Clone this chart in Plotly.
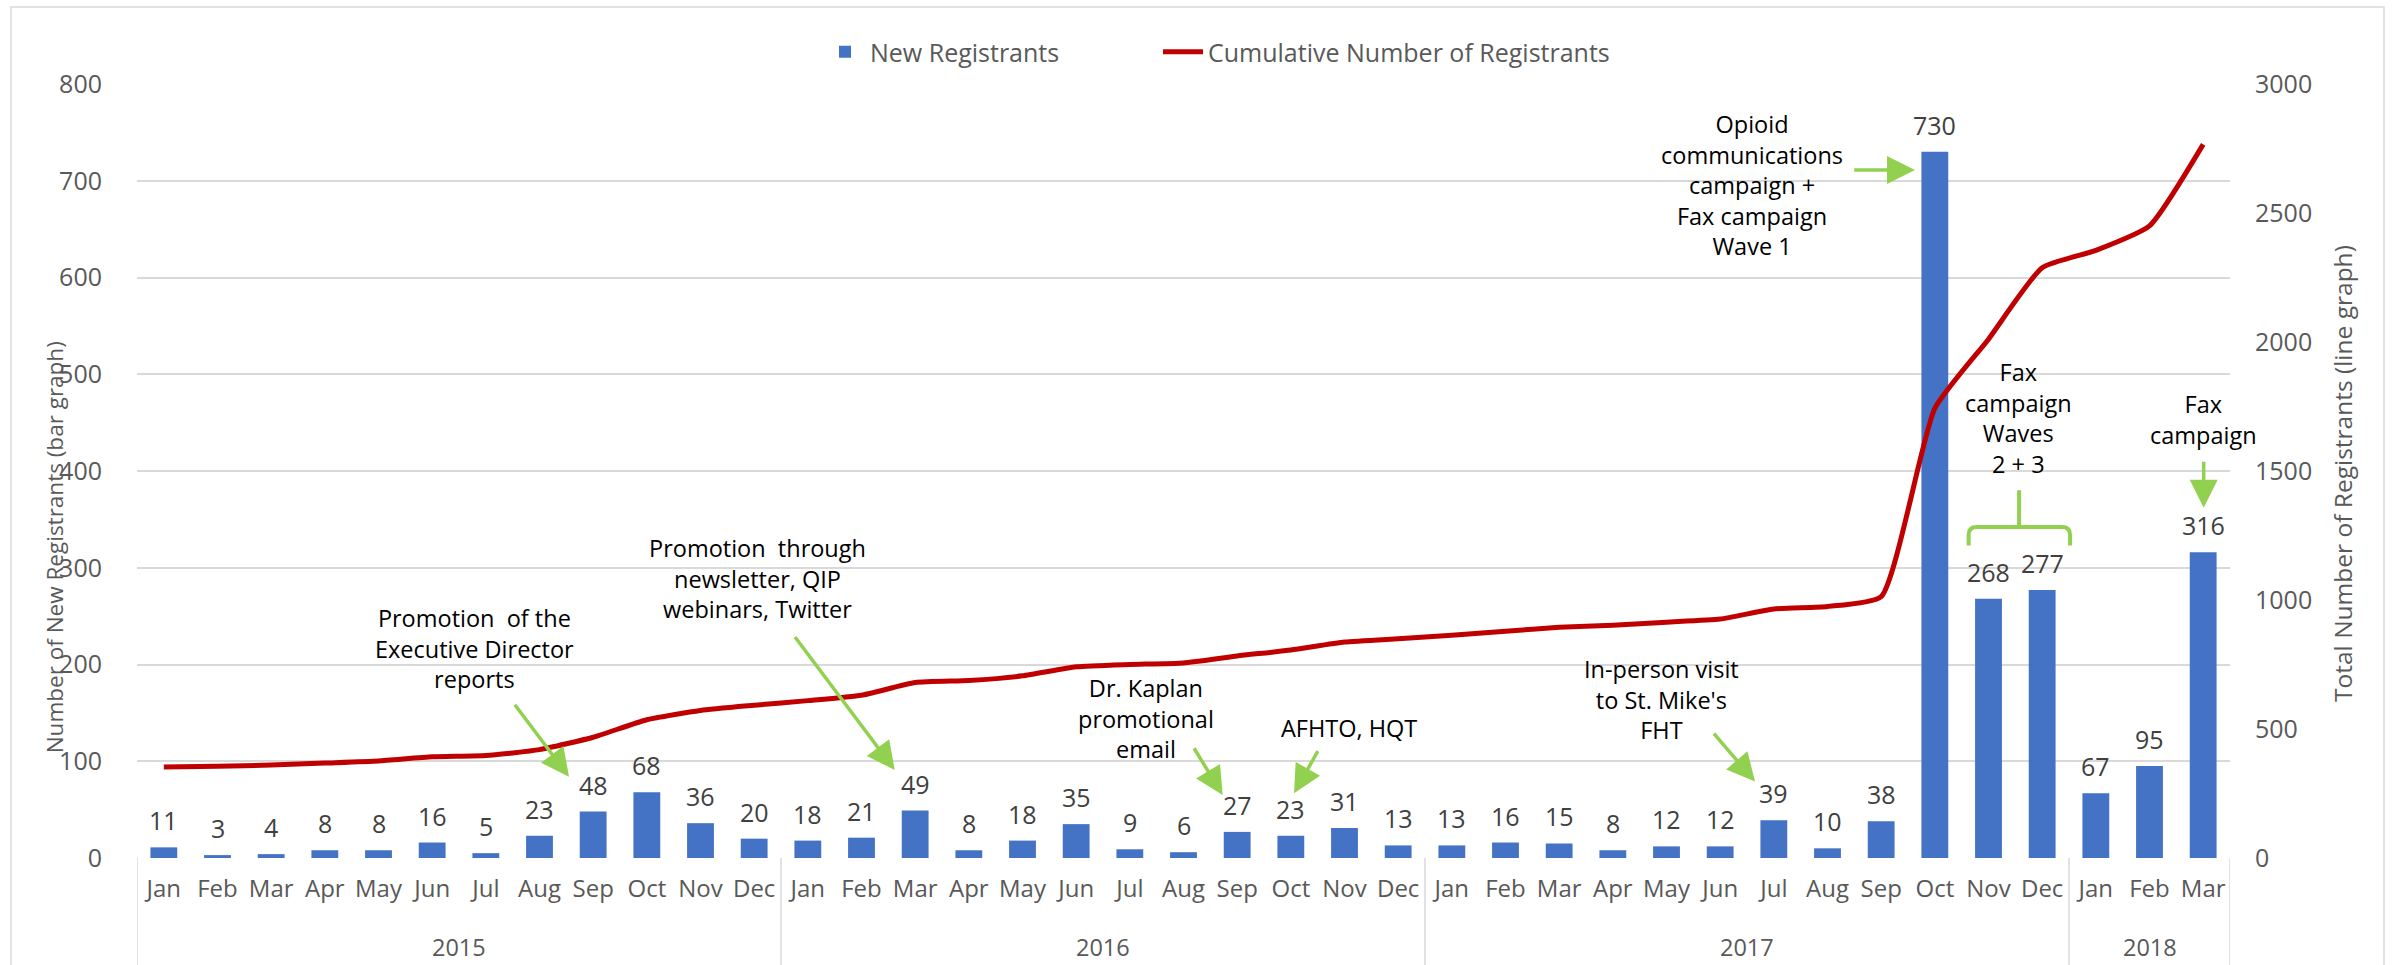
import plotly.graph_objects as go

months = ["Jan", "Feb", "Mar", "Apr", "May", "Jun", "Jul", "Aug", "Sep", "Oct", "Nov", "Dec",
          "Jan", "Feb", "Mar", "Apr", "May", "Jun", "Jul", "Aug", "Sep", "Oct", "Nov", "Dec",
          "Jan", "Feb", "Mar", "Apr", "May", "Jun", "Jul", "Aug", "Sep", "Oct", "Nov", "Dec",
          "Jan", "Feb", "Mar"]
years = ["2015", "2016", "2017", "2018"]
year_centers = [5.5, 17.5, 29.5, 37]
year_dividers = [-0.5, 11.5, 23.5, 35.5, 38.5]

new_registrants = [11, 3, 4, 8, 8, 16, 5, 23, 48, 68, 36, 20,
                   18, 21, 49, 8, 18, 35, 9, 6, 27, 23, 31, 13,
                   13, 16, 15, 8, 12, 12, 39, 10, 38, 730, 268, 277,
                   67, 95, 316]
cumulative = [353, 356, 360, 368, 376, 392, 397, 420, 468, 536, 572, 592,
              610, 631, 680, 688, 706, 741, 750, 756, 783, 806, 837, 850,
              863, 879, 894, 902, 914, 926, 965, 975, 1013, 1743, 2011, 2288,
              2355, 2450, 2766]

x = list(range(len(months)))

BAR = "#4472C4"
LINE = "#C00000"
GREEN = "#92D050"
GRID = "#D9D9D9"
AX = "#595959"
FONT = "Open Sans"

fig = go.Figure()
fig.add_trace(go.Bar(x=x, y=new_registrants, name="New Registrants",
                     marker=dict(color=BAR, line=dict(width=0)), yaxis="y", legend="legend"))
fig.add_trace(go.Scatter(x=x, y=cumulative, name="Cumulative Number of Registrants",
                         mode="lines", line=dict(color=LINE, width=5, shape="spline", smoothing=0.5),
                         yaxis="y2", legend="legend2"))

annotations = []
# data labels
for xi, v in zip(x, new_registrants):
    annotations.append(dict(x=xi, y=v, xref="x", yref="y", text=str(v), showarrow=False,
                            yanchor="bottom", yshift=8, font=dict(size=25, color="#404040", family=FONT)))
# year labels
for yc, yl in zip(year_centers, years):
    annotations.append(dict(x=yc, y=(858 - 947) / 774, xref="x", yref="paper", text=yl, showarrow=False,
                            xanchor="center", yanchor="middle", borderpad=0,
                            font=dict(size=23.5, color=AX, family=FONT)))
# axis titles
annotations.append(dict(x=-0.0395, y=0.4018, xref="paper", yref="paper", textangle=-90,
                        xanchor="center", yanchor="middle",
                        text="Number of New Registrants (bar graph)", showarrow=False,
                        font=dict(size=22.5, color=AX, family=FONT)))
annotations.append(dict(x=1.0535, y=0.4974, xref="paper", yref="paper", textangle=-90,
                        xanchor="center", yanchor="middle",
                        text="Total Number of Registrants (line graph)", showarrow=False,
                        font=dict(size=24.5, color=AX, family=FONT)))

notes = [
    ("Promotion  of the<br>Executive Director<br>reports", 5.78, 217),
    ("Promotion  through<br>newsletter, QIP<br>webinars, Twitter", 11.07, 289),
    ("Dr. Kaplan<br>promotional<br>email", 18.30, 144),
    ("AFHTO, HQT", 22.08, 134),
    ("In-person visit<br>to St. Mike's<br>FHT", 27.91, 164),
    ("Opioid<br>communications<br>campaign +<br>Fax campaign<br>Wave 1", 29.59, 696),
    ("Fax<br>campaign<br>Waves<br>2 + 3", 34.55, 455),
    ("Fax<br>campaign", 38.0, 453),
]
for t, nx, ny in notes:
    annotations.append(dict(x=nx, y=ny, xref="x", yref="y", text=t, showarrow=False,
                            xanchor="center", yanchor="middle",
                            font=dict(size=23.5, color="#000000", family=FONT)))

arrows = [
    (6.52, 160, 7.55, 84),
    (11.74, 230, 13.62, 91),
    (19.18, 115, 19.73, 65),
    (21.52, 112, 21.06, 67),
    (28.86, 130, 29.65, 79),
    (31.47, 711, 32.63, 711),
    (38.01, 411, 38.01, 362),
]
for ax_, ay_, hx, hy in arrows:
    annotations.append(dict(x=hx, y=hy, ax=ax_, ay=ay_, xref="x", yref="y", axref="x", ayref="y",
                            text="", showarrow=True, arrowhead=2, arrowsize=1.6, arrowwidth=3.5,
                            arrowcolor=GREEN, standoff=0, startstandoff=0))

shapes = []
for d in year_dividers:
    shapes.append(dict(type="line", xref="x", yref="paper", x0=d, x1=d, y0=0, y1=-0.15,
                       line=dict(color=GRID, width=1.5)))
# bracket for waves 2 + 3
shapes.append(dict(type="path", xref="x", yref="y",
                   path="M 33.63,323 L 33.63,334 Q 33.63,342 33.78,342 L 35.37,342 "
                        "Q 35.52,342 35.52,334 L 35.52,323 M 34.57,342 L 34.57,380",
                   line=dict(color=GREEN, width=4)))
# outer chart border
shapes.append(dict(type="rect", xref="paper", yref="paper",
                   x0=(11 - 137) / 2093, x1=(2384 - 137) / 2093, y0=(858 - 970) / 774, y1=(858 - 7) / 774,
                   line=dict(color=GRID, width=1.5)))

legend_common = dict(orientation="h", yanchor="middle", y=(858 - 52) / 774, xanchor="left",
                     font=dict(size=25, color=AX, family=FONT), itemwidth=40,
                     bgcolor="rgba(0,0,0,0)")

fig.update_layout(
    width=2394, height=965,
    margin=dict(l=137, r=164, t=84, b=107, autoexpand=False),
    paper_bgcolor="white", plot_bgcolor="white",
    font=dict(family=FONT, color=AX, size=24),
    bargap=0.5,
    showlegend=True,
    legend=dict(x=(820 - 137) / 2093, **legend_common),
    legend2=dict(x=(1158 - 137) / 2093, **legend_common),
    xaxis=dict(range=[-0.5, 38.5], tickvals=x, ticktext=months, showgrid=False, zeroline=False,
               showline=False, ticks="", ticklabelstandoff=14,
               tickfont=dict(size=24, color=AX, family=FONT), fixedrange=True),
    yaxis=dict(range=[0, 800], dtick=100, showgrid=True, gridcolor=GRID, gridwidth=1.5,
               zeroline=False, showline=False, ticks="", ticklabelstandoff=34,
               tickfont=dict(size=25, color=AX, family=FONT)),
    yaxis2=dict(range=[0, 3000], dtick=500, overlaying="y", side="right", showgrid=False,
                zeroline=False, showline=False, ticks="", ticklabelstandoff=24,
                tickfont=dict(size=25, color=AX, family=FONT)),
    annotations=annotations,
    shapes=shapes,
)

fig.write_html("out.html", config={"displayModeBar": False},
               post_script="document.body.style.margin='0';document.body.style.overflow='hidden';")
